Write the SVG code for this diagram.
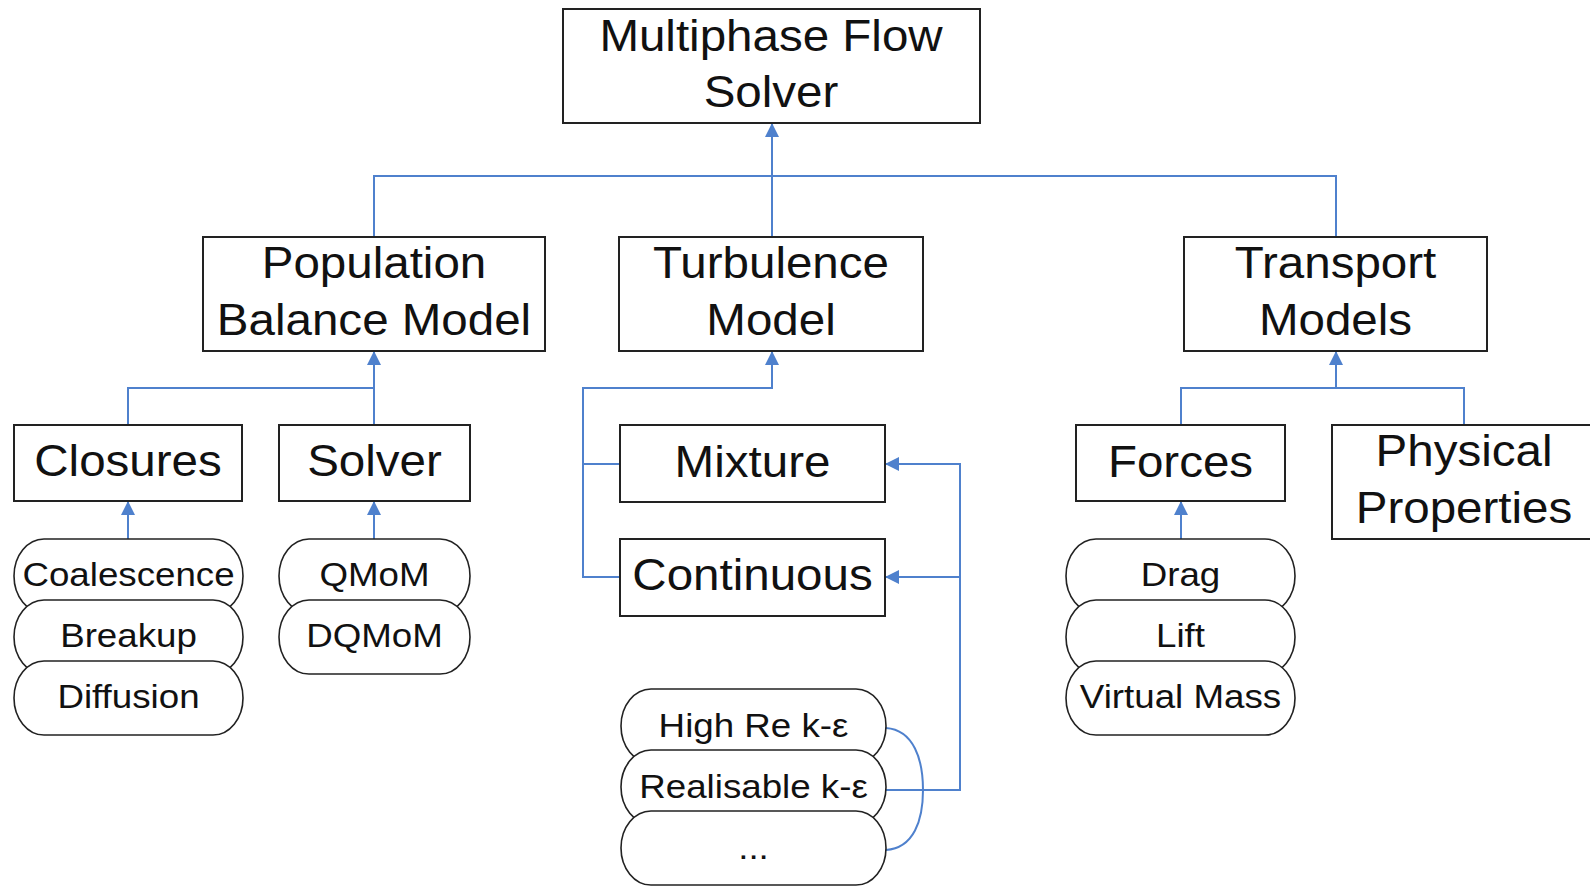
<svg xmlns="http://www.w3.org/2000/svg" width="1590" height="887" viewBox="0 0 1590 887">
<style>
.box{fill:#fff;stroke:#222;stroke-width:2}
.pill{fill:#fff;stroke:#222;stroke-width:1.6}
.big{font-family:"Liberation Sans",Arial,sans-serif;font-size:44px;fill:#111;text-anchor:middle}
.sm{font-family:"Liberation Sans",Arial,sans-serif;font-size:34px;fill:#111;text-anchor:middle}
.con{fill:none;stroke:#4F81CD;stroke-width:2}
</style>
<defs>
<marker id="arr" markerUnits="userSpaceOnUse" markerWidth="14" markerHeight="14" refX="14" refY="7" orient="auto">
<path d="M0,0 L14,7 L0,14 z" fill="#4F81CD"/>
</marker>
</defs>
<rect width="1590" height="887" fill="#fff"/>
<g id="connectors">
<path class="con" d="M772,237 L772,123" marker-end="url(#arr)"/>
<path class="con" d="M374,237 L374,176 L1336,176 L1336,237"/>
<path class="con" d="M128,425 L128,388 L374,388"/>
<path class="con" d="M374,425 L374,351" marker-end="url(#arr)"/>
<path class="con" d="M128,539 L128,501" marker-end="url(#arr)"/>
<path class="con" d="M374,539 L374,501" marker-end="url(#arr)"/>
<path class="con" d="M620,464 L583,464 L583,388 L772,388 L772,351" marker-end="url(#arr)"/>
<path class="con" d="M620,577 L583,577 L583,464"/>
<path class="con" d="M886,790 L960,790 L960,464 L885,464" marker-end="url(#arr)"/>
<path class="con" d="M960,577 L885,577" marker-end="url(#arr)"/>
<path class="con" d="M886,728 C914,730 923,760 923,790 C923,820 914,848 886,850"/>
<path class="con" d="M1181,425 L1181,388 L1464,388 L1464,425"/>
<path class="con" d="M1336,388 L1336,351" marker-end="url(#arr)"/>
<path class="con" d="M1181,539 L1181,501" marker-end="url(#arr)"/>
</g>
<g id="multiphase">
<rect class="box" x="563" y="9" width="417" height="114"/>
<text class="big" transform="translate(771,51) scale(1.08,1)">Multiphase Flow</text>
<text class="big" transform="translate(771,107) scale(1.08,1)">Solver</text>
</g>
<g id="pbm">
<rect class="box" x="203" y="237" width="342" height="114"/>
<text class="big" transform="translate(374,278) scale(1.08,1)">Population</text>
<text class="big" transform="translate(374,335) scale(1.08,1)">Balance Model</text>
</g>
<g id="turbulence">
<rect class="box" x="619" y="237" width="304" height="114"/>
<text class="big" transform="translate(771,278) scale(1.08,1)">Turbulence</text>
<text class="big" transform="translate(771,335) scale(1.08,1)">Model</text>
</g>
<g id="transport">
<rect class="box" x="1184" y="237" width="303" height="114"/>
<text class="big" transform="translate(1335.5,278) scale(1.08,1)">Transport</text>
<text class="big" transform="translate(1335.5,335) scale(1.08,1)">Models</text>
</g>
<g id="closures">
<rect class="box" x="14" y="425" width="228" height="76"/>
<text class="big" transform="translate(128,476) scale(1.08,1)">Closures</text>
</g>
<g id="solver">
<rect class="box" x="279" y="425" width="191" height="76"/>
<text class="big" transform="translate(374.5,476) scale(1.08,1)">Solver</text>
</g>
<g id="mixture">
<rect class="box" x="620" y="425" width="265" height="77"/>
<text class="big" transform="translate(752.5,477) scale(1.08,1)">Mixture</text>
</g>
<g id="continuous">
<rect class="box" x="620" y="539" width="265" height="77"/>
<text class="big" transform="translate(752.5,590) scale(1.08,1)">Continuous</text>
</g>
<g id="forces">
<rect class="box" x="1076" y="425" width="209" height="76"/>
<text class="big" transform="translate(1180.5,477) scale(1.08,1)">Forces</text>
</g>
<g id="physical">
<rect class="box" x="1332" y="425" width="264" height="114"/>
<text class="big" transform="translate(1464,466) scale(1.08,1)">Physical</text>
<text class="big" transform="translate(1464,523) scale(1.08,1)">Properties</text>
</g>
<g id="coalescence">
<rect class="pill" x="14" y="539" width="229" height="74" rx="30" ry="37"/>
<text class="sm" transform="translate(128.5,586) scale(1.08,1)">Coalescence</text>
</g>
<g id="breakup">
<rect class="pill" x="14" y="600" width="229" height="74" rx="30" ry="37"/>
<text class="sm" transform="translate(128.5,647) scale(1.08,1)">Breakup</text>
</g>
<g id="diffusion">
<rect class="pill" x="14" y="661" width="229" height="74" rx="30" ry="37"/>
<text class="sm" transform="translate(128.5,708) scale(1.08,1)">Diffusion</text>
</g>
<g id="qmom">
<rect class="pill" x="279" y="539" width="191" height="74" rx="30" ry="37"/>
<text class="sm" transform="translate(374.5,586) scale(1.08,1)">QMoM</text>
</g>
<g id="dqmom">
<rect class="pill" x="279" y="600" width="191" height="74" rx="30" ry="37"/>
<text class="sm" transform="translate(374.5,647) scale(1.08,1)">DQMoM</text>
</g>
<g id="highre">
<rect class="pill" x="621" y="689" width="265" height="74" rx="30" ry="37"/>
<text class="sm" transform="translate(753.5,737) scale(1.08,1)">High Re k-ε</text>
</g>
<g id="realisable">
<rect class="pill" x="621" y="750" width="265" height="74" rx="30" ry="37"/>
<text class="sm" transform="translate(753.5,798) scale(1.08,1)">Realisable k-ε</text>
</g>
<g id="more">
<rect class="pill" x="621" y="811" width="265" height="74" rx="30" ry="37"/>
<text class="sm" transform="translate(753.5,859) scale(1.08,1)">...</text>
</g>
<g id="drag">
<rect class="pill" x="1066" y="539" width="229" height="74" rx="30" ry="37"/>
<text class="sm" transform="translate(1180.5,586) scale(1.08,1)">Drag</text>
</g>
<g id="lift">
<rect class="pill" x="1066" y="600" width="229" height="74" rx="30" ry="37"/>
<text class="sm" transform="translate(1180.5,647) scale(1.08,1)">Lift</text>
</g>
<g id="virtualmass">
<rect class="pill" x="1066" y="661" width="229" height="74" rx="30" ry="37"/>
<text class="sm" transform="translate(1180.5,708) scale(1.08,1)">Virtual Mass</text>
</g>
</svg>
